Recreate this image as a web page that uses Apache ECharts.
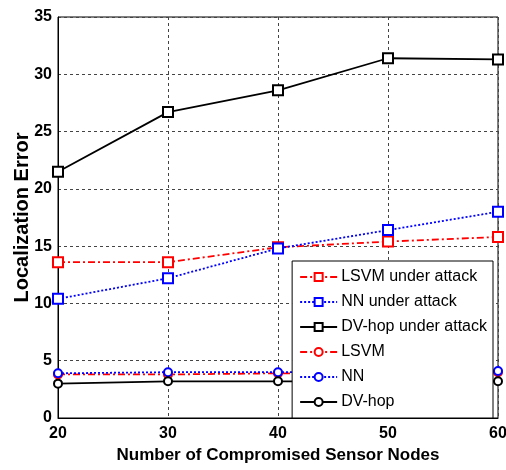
<!DOCTYPE html>
<html>
<head>
<meta charset="utf-8">
<script src="https://cdn.jsdelivr.net/npm/echarts@6/dist/echarts.min.js"></script>
<style>
  html, body { margin: 0; padding: 0; background: #fff; }
  #chart { width: 506px; height: 470px; }
</style>
</head>
<body>
<div id="chart"></div>
<script>
// x values: number of compromised sensor nodes
const nodes = [20, 30, 40, 50, 60]
const yTicks = [0, 5, 10, 15, 20, 25, 30, 35]

// localization error per method
const lsvmAttack = [13.6, 13.6, 14.9, 15.4, 15.8]
const nnAttack = [10.4, 12.2, 14.8, 16.4, 18.0]
const dvhopAttack = [21.5, 26.7, 28.6, 31.4, 31.3]
const lsvm = [3.8, 3.8, 3.9, 3.9, 4.0]
const nn = [3.9, 4.0, 4.0, 4.0, 4.1]
const dvhop = [3.0, 3.2, 3.2, 3.2, 3.2]

const pairs = arr => nodes.map((x, i) => [x, arr[i]])

const font = 'Liberation Sans'
const dashDot = [7, 3, 2, 3]
const dotted = [2, 2]

function makeSeries(name, data, color, dash, symbol, size) {
  return {
    name,
    type: 'line',
    data: pairs(data),
    symbol,
    symbolSize: size,
    showAllSymbol: true,
    lineStyle: { color, width: 1.8, type: dash },
    itemStyle: { color, borderColor: color, borderWidth: 1.6 },
    emphasis: { disabled: true }
  }
}

const chart = echarts.init(document.getElementById('chart'))
chart.setOption({
  animation: false,
  backgroundColor: '#fff',
  grid: {
    left: 58,
    right: 8,
    top: 17,
    bottom: 52,
    outerBoundsMode: 'none',
    show: true,
    borderColor: '#000',
    borderWidth: 1
  },
  legend: {
    orient: 'vertical',
    right: 13,
    bottom: 52,
    padding: [8, 6, 8, 7],
    itemGap: 9,
    itemWidth: 37,
    itemHeight: 10,
    backgroundColor: '#fff',
    borderColor: '#000',
    borderWidth: 1,
    textStyle: { fontFamily: font, fontSize: 16, color: '#000', padding: [0, 0, 0, -1] },
    data: [
      'LSVM under attack', 'NN under attack', 'DV-hop under attack',
      'LSVM', 'NN', 'DV-hop'
    ]
  },
  xAxis: {
    type: 'value',
    min: 20,
    max: 60,
    interval: 10,
    name: 'Number of Compromised Sensor Nodes',
    nameLocation: 'middle',
    nameGap: 29,
    nameMoveOverlap: false,
    nameTextStyle: { fontFamily: font, fontWeight: 'bold', fontSize: 17, color: '#000' },
    axisLine: { lineStyle: { color: '#000' } },
    axisTick: { show: false },
    axisLabel: { fontFamily: font, fontWeight: 'bold', fontSize: 16, color: '#000', margin: 8 },
    splitLine: { lineStyle: { color: '#444', type: [3, 3] } }
  },
  yAxis: {
    type: 'value',
    min: 0,
    max: 35,
    interval: 5,
    name: 'Localization Error',
    nameLocation: 'middle',
    nameGap: 26,
    nameMoveOverlap: false,
    nameTextStyle: { fontFamily: font, fontWeight: 'bold', fontSize: 20, color: '#000' },
    axisLine: { lineStyle: { color: '#000' } },
    axisTick: { show: false },
    axisLabel: {
      fontFamily: font, fontWeight: 'bold', fontSize: 16, color: '#000', margin: 6,
      formatter: v => (yTicks.includes(v) ? String(v) : '')
    },
    splitLine: { lineStyle: { color: '#444', type: [3, 3] } }
  },
  series: [
    makeSeries('LSVM under attack', lsvmAttack, '#ff0000', dashDot, 'emptyRect', 10),
    makeSeries('NN under attack', nnAttack, '#0000ff', dotted, 'emptyRect', 10),
    makeSeries('DV-hop under attack', dvhopAttack, '#000000', 'solid', 'emptyRect', 10),
    makeSeries('LSVM', lsvm, '#ff0000', dashDot, 'emptyCircle', 8),
    makeSeries('NN', nn, '#0000ff', dotted, 'emptyCircle', 8),
    makeSeries('DV-hop', dvhop, '#000000', 'solid', 'emptyCircle', 8)
  ]
})
</script>
</body>
</html>
